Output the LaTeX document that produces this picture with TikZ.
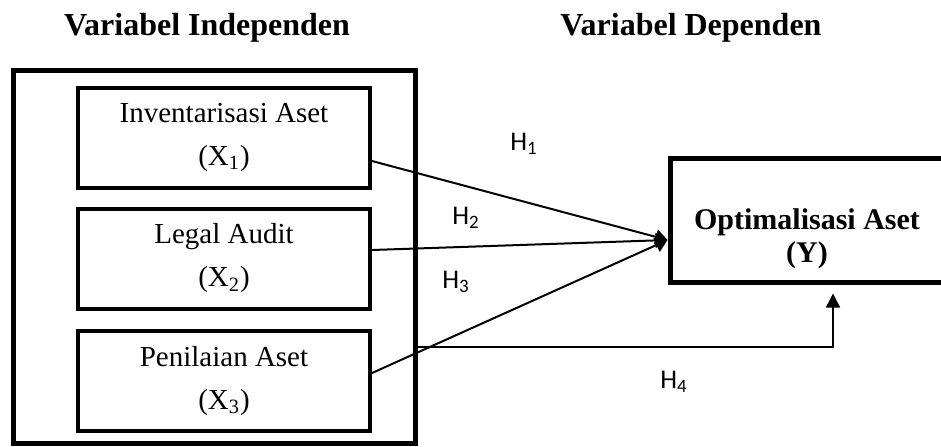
\documentclass[tikz,border=0pt]{standalone}
\usepackage{fontspec}
\setmainfont{Liberation Serif}
\newfontfamily\hfont{Carlito}
\usetikzlibrary{arrows.meta}

\begin{document}
\begin{tikzpicture}[x=0.5pt,y=-0.5pt,
  title/.style={anchor=base, font=\bfseries\fontsize{16}{19}\selectfont},
  varbox/.style={draw, line width=2pt, minimum width=146pt, minimum height=50pt,
    align=center, font=\fontsize{14.5}{21.5}\selectfont},
  hyp/.style={font=\hfont\fontsize{13.5}{16}\selectfont},
  tip/.style={-{Triangle[length=6pt,width=7.5pt]}, line width=1pt}]
\useasboundingbox (0,0) rectangle (941,446);

\node[title] (tind) at (207,35) {Variabel Independen};
\node[title] (tdep) at (691,35) {Variabel Dependen};

% big frame round the independent variables
\node[draw, line width=2.5pt, minimum width=201pt, minimum height=186.5pt] (indep) at (214,256.5) {};

\node[varbox] (x1) at (224,137.5) {Inventarisasi Aset\\(X\textsubscript{1})};
\node[varbox] (x2) at (224,258.5) {Legal Audit\\(X\textsubscript{2})};
\node[varbox] (x3) at (224,381) {Penilaian Aset\\(X\textsubscript{3})};

% dependent variable, cut at the right edge
\node[draw, line width=2.5pt, minimum width=137pt, minimum height=62pt] (y) at (807,220) {};
\node[align=center, font=\bfseries\fontsize{15}{16.5}\selectfont] (ytext) at (807,239) {Optimalisasi Aset\\(Y)};

\draw[tip] ([yshift=-11.75pt]x1.east) -- ([yshift=-10pt]y.west);
\draw[tip] ([yshift=4.25pt]x2.east) -- ([yshift=-10pt]y.west);
\draw[tip] ([yshift=4pt]x3.east) -- ([yshift=-10pt]y.west);
\draw[-{Triangle[length=7pt,width=7pt]}, line width=0.75pt]
  ([yshift=-45.25pt]indep.east) -| ([xshift=13pt,yshift=-4.5pt]y.south);

\node[hyp] (h1) at (524,144) {H\textsubscript{1}};
\node[hyp] (h2) at (466,218) {H\textsubscript{2}};
\node[hyp] (h3) at (456,282) {H\textsubscript{3}};
\node[hyp] (h4) at (674,382) {H\textsubscript{4}};
\end{tikzpicture}
\end{document}
